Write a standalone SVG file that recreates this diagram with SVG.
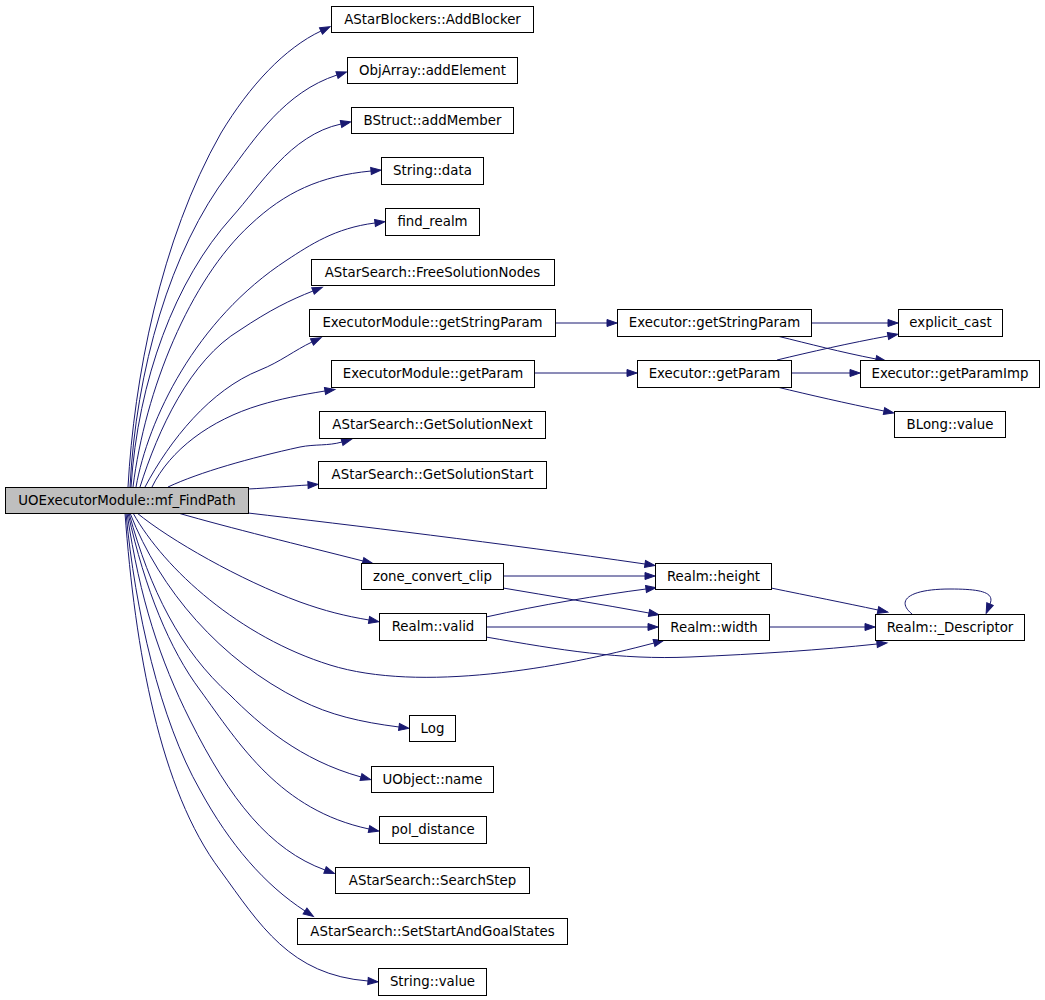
<svg xmlns="http://www.w3.org/2000/svg" width="1045" height="1000" viewBox="0 0 1045 1000">
<defs>
<style>
.n rect{fill:#ffffff;stroke:#000000;stroke-width:1}
.n.f rect{fill:#bfbfbf}
.n text{font-family:"DejaVu Sans","Liberation Sans",sans-serif;font-size:13.33px;fill:#000000;text-anchor:middle}
#edges path{fill:none;stroke:#191970;stroke-width:1;marker-end:url(#arr)}
</style>
<marker id="arr" markerWidth="11" markerHeight="8" refX="0" refY="3.5" orient="auto" markerUnits="userSpaceOnUse" overflow="visible">
<path d="M0,0 L10,3.5 L0,7 z" fill="#191970" stroke="#191970" stroke-width="1"/>
</marker>
</defs>
<rect x="0" y="0" width="1045" height="1000" fill="#ffffff"/>
<g id="edges">
<path d="M128,487 C134,380 160,240 221,133 C250,85 285,48 321,31"/>
<path d="M130,487 C136,370 170,250 229,173 C255,138 285,92 337,75"/>
<path d="M131,487 C138,380 175,280 232,217 C260,186 290,135 341,124"/>
<path d="M133,487 C145,390 190,280 250,225 C285,192 320,176 371,171"/>
<path d="M136,487 C148,420 195,320 287,260 C310,245 335,228 375,223"/>
<path d="M140,487 C158,430 190,360 240,330 C270,310 290,300 313,291"/>
<path d="M145,487 C170,440 210,390 260,370 C280,362 295,350 312,342"/>
<path d="M152,487 C170,450 210,420 260,405 C280,399 300,395 325,391"/>
<path d="M168,487 C200,472 250,458 300,447 C315,444 328,446 342,442"/>
<path d="M248,489 C270,488 290,486 308,485"/>
<path d="M248,513 C350,525 500,543 645,564"/>
<path d="M178,513 C230,528 300,545 363,561"/>
<path d="M137,513 C170,540 240,580 300,602 C325,611 345,616 369,620"/>
<path d="M133,513 C165,570 240,637 330,665 C420,693 560,668 654,643"/>
<path d="M130,513 C160,590 220,660 300,700 C330,715 360,722 399,727"/>
<path d="M129,513 C150,590 180,650 230,695 C260,725 300,760 361,777"/>
<path d="M128,513 C145,590 170,650 200,690 C240,745 280,810 369,829"/>
<path d="M127,513 C140,600 160,660 190,720 C230,800 270,850 325,870"/>
<path d="M126,513 C135,610 160,720 200,790 C230,845 265,885 305,911"/>
<path d="M125,513 C135,650 160,790 220,870 C260,925 290,975 368,981"/>
<path d="M555,323 L607,323"/>
<path d="M534,373 L627,373"/>
<path d="M811,323 L888,323"/>
<path d="M777,336 C810,344 840,352 876,359"/>
<path d="M777,360 C810,352 850,343 888,336"/>
<path d="M791,373 L850,373"/>
<path d="M777,387 C810,395 845,403 884,411"/>
<path d="M503,576 L645,576"/>
<path d="M503,588 C550,596 600,604 649,613"/>
<path d="M486,617 C540,605 600,595 646,589"/>
<path d="M486,627 L648,627"/>
<path d="M486,637 C560,650 620,660 690,657 C760,654 820,650 877,644"/>
<path d="M771,588 C810,596 845,603 878,610"/>
<path d="M769,627 L865,627"/>
<path d="M912,614 C895,600 910,589 950,589 C980,589 995,592 990,604"/>
</g>
<g id="n_main" class="n f"><rect x="5.5" y="487.5" width="243" height="26"/><text x="127" y="505">UOExecutorModule::mf_FindPath</text></g>
<g id="n_addblocker" class="n"><rect x="331.5" y="6.5" width="202" height="26"/><text x="432.5" y="24">AStarBlockers::AddBlocker</text></g>
<g id="n_addelement" class="n"><rect x="347.5" y="57.5" width="170" height="26"/><text x="432.5" y="75">ObjArray::addElement</text></g>
<g id="n_addmember" class="n"><rect x="351.5" y="107.5" width="162" height="26"/><text x="432.5" y="125">BStruct::addMember</text></g>
<g id="n_stringdata" class="n"><rect x="381.5" y="157.5" width="102" height="27"/><text x="432.5" y="175">String::data</text></g>
<g id="n_findrealm" class="n"><rect x="385.5" y="208.5" width="94" height="27"/><text x="432.5" y="226">find_realm</text></g>
<g id="n_freesol" class="n"><rect x="311.5" y="259.5" width="243" height="26"/><text x="432.5" y="277">AStarSearch::FreeSolutionNodes</text></g>
<g id="n_emgetstring" class="n"><rect x="309.5" y="309.5" width="246" height="27"/><text x="432.5" y="327">ExecutorModule::getStringParam</text></g>
<g id="n_emgetparam" class="n"><rect x="331.5" y="360.5" width="203" height="27"/><text x="433" y="378">ExecutorModule::getParam</text></g>
<g id="n_solnext" class="n"><rect x="319.5" y="411.5" width="226" height="27"/><text x="432.5" y="429">AStarSearch::GetSolutionNext</text></g>
<g id="n_solstart" class="n"><rect x="318.5" y="461.5" width="228" height="27"/><text x="432.5" y="479">AStarSearch::GetSolutionStart</text></g>
<g id="n_zone" class="n"><rect x="361.5" y="563.5" width="142" height="26"/><text x="432.5" y="581">zone_convert_clip</text></g>
<g id="n_valid" class="n"><rect x="379.5" y="613.5" width="107" height="27"/><text x="433" y="631">Realm::valid</text></g>
<g id="n_log" class="n"><rect x="409.5" y="715.5" width="46" height="26"/><text x="432.5" y="733">Log</text></g>
<g id="n_uobjname" class="n"><rect x="371.5" y="766.5" width="122" height="26"/><text x="432.5" y="784">UObject::name</text></g>
<g id="n_poldist" class="n"><rect x="379.5" y="816.5" width="107" height="27"/><text x="433" y="834">pol_distance</text></g>
<g id="n_searchstep" class="n"><rect x="335.5" y="867.5" width="194" height="26"/><text x="432.5" y="885">AStarSearch::SearchStep</text></g>
<g id="n_setstart" class="n"><rect x="297.5" y="918.5" width="270" height="26"/><text x="432.5" y="936">AStarSearch::SetStartAndGoalStates</text></g>
<g id="n_stringvalue" class="n"><rect x="378.5" y="968.5" width="108" height="27"/><text x="432.5" y="986">String::value</text></g>
<g id="n_exgetstring" class="n"><rect x="617.5" y="309.5" width="194" height="27"/><text x="714.5" y="327">Executor::getStringParam</text></g>
<g id="n_exgetparam" class="n"><rect x="637.5" y="360.5" width="154" height="27"/><text x="714.5" y="378">Executor::getParam</text></g>
<g id="n_height" class="n"><rect x="655.5" y="563.5" width="116" height="26"/><text x="713.5" y="581">Realm::height</text></g>
<g id="n_width" class="n"><rect x="658.5" y="614.5" width="111" height="26"/><text x="714" y="632">Realm::width</text></g>
<g id="n_explicit" class="n"><rect x="898.5" y="309.5" width="104" height="27"/><text x="950.5" y="327">explicit_cast</text></g>
<g id="n_paramimp" class="n"><rect x="860.5" y="360.5" width="179" height="27"/><text x="950" y="378">Executor::getParamImp</text></g>
<g id="n_blong" class="n"><rect x="894.5" y="411.5" width="111" height="26"/><text x="950" y="429">BLong::value</text></g>
<g id="n_descriptor" class="n"><rect x="875.5" y="614.5" width="149" height="26"/><text x="950" y="632">Realm::_Descriptor</text></g>
</svg>
